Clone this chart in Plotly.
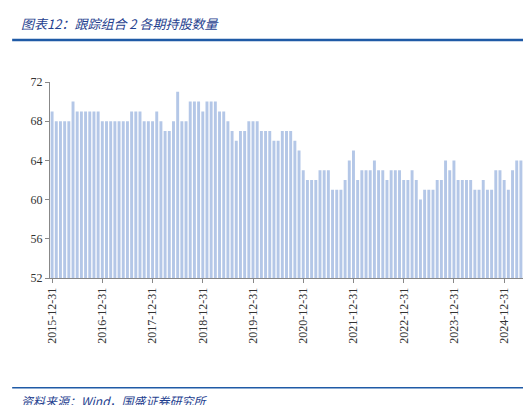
import pandas as pd
import plotly.graph_objects as go

dates = [d.strftime("%Y-%m-%d") for d in pd.date_range("2015-12-31", "2025-04-30", freq="ME")]
holdings = [
    69,
    68, 68, 68, 68, 70, 69, 69, 69, 69, 69, 69, 68,          # 2016
    68, 68, 68, 68, 68, 68, 69, 69, 69, 68, 68, 68,          # 2017
    69, 68, 67, 67, 68, 71, 68, 68, 70, 70, 70, 69,          # 2018
    70, 70, 70, 69, 69, 68, 67, 66, 67, 67, 68, 68,          # 2019
    68, 67, 67, 67, 66, 66, 67, 67, 67, 66, 65, 63,          # 2020
    62, 62, 62, 63, 63, 63, 61, 61, 61, 62, 64, 65,          # 2021
    62, 63, 63, 63, 64, 63, 63, 62, 63, 63, 63, 62,          # 2022
    62, 63, 62, 60, 61, 61, 61, 62, 62, 64, 63, 64,          # 2023
    62, 62, 62, 62, 61, 61, 62, 61, 61, 63, 63, 62,          # 2024
    61, 63, 64, 64,                                          # 2025
]
tick_labels = [f"{y}-12-31" for y in range(2015, 2025)]

fig = go.Figure(go.Bar(x=dates, y=holdings, marker_color="#b4c7e7", marker_line_width=0))
fig.update_layout(
    width=531, height=405, margin=dict(l=42, r=16, t=74, b=135),
    plot_bgcolor="white", paper_bgcolor="white", bargap=0.3, showlegend=False,
    font=dict(family="Liberation Serif", size=12, color="#333"),
    xaxis=dict(type="category", tickmode="array", tickvals=tick_labels, ticktext=tick_labels,
               tickangle=-90, showline=True, linecolor="#888", ticks="outside", ticklen=4,
               tickcolor="#888", showgrid=False, range=[-0.5, len(dates) - 0.5],
               tickfont=dict(family="Liberation Serif", size=12)),
    yaxis=dict(range=[52, 72], tickvals=[52, 56, 60, 64, 68, 72], showline=True, linecolor="#888",
               ticks="outside", ticklen=4, tickcolor="#888", showgrid=False,
               tickfont=dict(family="Liberation Serif", size=12)),
    shapes=[
        dict(type="line", xref="paper", yref="paper", x0=-0.08, x1=1.03, y0=1.214, y1=1.214,
             line=dict(color="#1f5aa6", width=2.5)),
        dict(type="line", xref="paper", yref="paper", x0=-0.08, x1=1.03, y0=-0.56, y1=-0.56,
             line=dict(color="#1f5aa6", width=1.5)),
    ],
    annotations=[
        dict(text="<i>图表12：跟踪组合 2 各期持股数量</i>", xref="paper", yref="paper", x=-0.065, y=1.30,
             xanchor="left", yanchor="middle", showarrow=False,
             font=dict(family="Noto Sans CJK SC", size=13, color="#1f3f8f")),
        dict(text="<i>资料来源：Wind，国盛证券研究所</i>", xref="paper", yref="paper", x=-0.065, y=-0.625,
             xanchor="left", yanchor="middle", showarrow=False,
             font=dict(family="Noto Sans CJK SC", size=12, color="#1f3f8f")),
    ],
)
fig.write_html("out.html")
